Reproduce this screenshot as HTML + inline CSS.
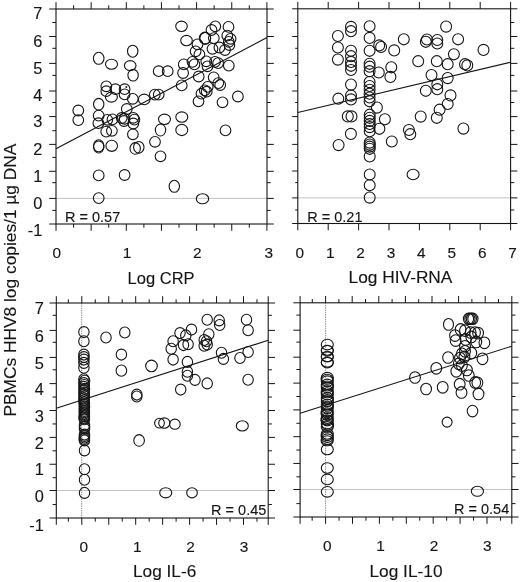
<!DOCTYPE html>
<html><head><meta charset="utf-8"><title>Figure</title>
<style>
html,body{margin:0;padding:0;background:#fff;}
svg{display:block;}
text{font-family:"Liberation Sans",sans-serif;}
</style></head>
<body>
<svg width="520" height="582" viewBox="0 0 520 582">
<rect width="520" height="582" fill="#ffffff"/>
<line x1="56.00" y1="198.40" x2="267.00" y2="198.40" stroke="#b4b4b4" stroke-width="0.8" />
<rect x="56.00" y="9.00" width="211.00" height="215.00" fill="none" stroke="#151515" stroke-width="1.1"/>
<line x1="49.20" y1="9.00" x2="56.00" y2="9.00" stroke="#151515" stroke-width="1.0" />
<line x1="267.00" y1="9.00" x2="273.80" y2="9.00" stroke="#151515" stroke-width="1.0" />
<line x1="52.30" y1="22.50" x2="56.00" y2="22.50" stroke="#151515" stroke-width="1.0" />
<line x1="267.00" y1="22.50" x2="270.70" y2="22.50" stroke="#151515" stroke-width="1.0" />
<line x1="49.20" y1="36.50" x2="56.00" y2="36.50" stroke="#151515" stroke-width="1.0" />
<line x1="267.00" y1="36.50" x2="273.80" y2="36.50" stroke="#151515" stroke-width="1.0" />
<line x1="52.30" y1="48.30" x2="56.00" y2="48.30" stroke="#151515" stroke-width="1.0" />
<line x1="267.00" y1="48.30" x2="270.70" y2="48.30" stroke="#151515" stroke-width="1.0" />
<line x1="49.20" y1="63.40" x2="56.00" y2="63.40" stroke="#151515" stroke-width="1.0" />
<line x1="267.00" y1="63.40" x2="273.80" y2="63.40" stroke="#151515" stroke-width="1.0" />
<line x1="52.30" y1="75.40" x2="56.00" y2="75.40" stroke="#151515" stroke-width="1.0" />
<line x1="267.00" y1="75.40" x2="270.70" y2="75.40" stroke="#151515" stroke-width="1.0" />
<line x1="49.20" y1="91.00" x2="56.00" y2="91.00" stroke="#151515" stroke-width="1.0" />
<line x1="267.00" y1="91.00" x2="273.80" y2="91.00" stroke="#151515" stroke-width="1.0" />
<line x1="52.30" y1="102.50" x2="56.00" y2="102.50" stroke="#151515" stroke-width="1.0" />
<line x1="267.00" y1="102.50" x2="270.70" y2="102.50" stroke="#151515" stroke-width="1.0" />
<line x1="49.20" y1="116.60" x2="56.00" y2="116.60" stroke="#151515" stroke-width="1.0" />
<line x1="267.00" y1="116.60" x2="273.80" y2="116.60" stroke="#151515" stroke-width="1.0" />
<line x1="52.30" y1="130.70" x2="56.00" y2="130.70" stroke="#151515" stroke-width="1.0" />
<line x1="267.00" y1="130.70" x2="270.70" y2="130.70" stroke="#151515" stroke-width="1.0" />
<line x1="49.20" y1="144.40" x2="56.00" y2="144.40" stroke="#151515" stroke-width="1.0" />
<line x1="267.00" y1="144.40" x2="273.80" y2="144.40" stroke="#151515" stroke-width="1.0" />
<line x1="52.30" y1="157.40" x2="56.00" y2="157.40" stroke="#151515" stroke-width="1.0" />
<line x1="267.00" y1="157.40" x2="270.70" y2="157.40" stroke="#151515" stroke-width="1.0" />
<line x1="49.20" y1="171.30" x2="56.00" y2="171.30" stroke="#151515" stroke-width="1.0" />
<line x1="267.00" y1="171.30" x2="273.80" y2="171.30" stroke="#151515" stroke-width="1.0" />
<line x1="52.30" y1="182.70" x2="56.00" y2="182.70" stroke="#151515" stroke-width="1.0" />
<line x1="267.00" y1="182.70" x2="270.70" y2="182.70" stroke="#151515" stroke-width="1.0" />
<line x1="49.20" y1="198.40" x2="56.00" y2="198.40" stroke="#151515" stroke-width="1.0" />
<line x1="267.00" y1="198.40" x2="273.80" y2="198.40" stroke="#151515" stroke-width="1.0" />
<line x1="52.30" y1="210.40" x2="56.00" y2="210.40" stroke="#151515" stroke-width="1.0" />
<line x1="267.00" y1="210.40" x2="270.70" y2="210.40" stroke="#151515" stroke-width="1.0" />
<line x1="49.20" y1="224.00" x2="56.00" y2="224.00" stroke="#151515" stroke-width="1.0" />
<line x1="267.00" y1="224.00" x2="273.80" y2="224.00" stroke="#151515" stroke-width="1.0" />
<line x1="56.00" y1="224.00" x2="56.00" y2="230.80" stroke="#151515" stroke-width="1.0" />
<line x1="91.15" y1="224.00" x2="91.15" y2="230.80" stroke="#151515" stroke-width="1.0" />
<line x1="126.30" y1="224.00" x2="126.30" y2="230.80" stroke="#151515" stroke-width="1.0" />
<line x1="161.45" y1="224.00" x2="161.45" y2="230.80" stroke="#151515" stroke-width="1.0" />
<line x1="196.60" y1="224.00" x2="196.60" y2="230.80" stroke="#151515" stroke-width="1.0" />
<line x1="231.75" y1="224.00" x2="231.75" y2="230.80" stroke="#151515" stroke-width="1.0" />
<line x1="266.90" y1="224.00" x2="266.90" y2="230.80" stroke="#151515" stroke-width="1.0" />
<line x1="73.58" y1="224.00" x2="73.58" y2="227.70" stroke="#151515" stroke-width="1.0" />
<line x1="108.72" y1="224.00" x2="108.72" y2="227.70" stroke="#151515" stroke-width="1.0" />
<line x1="143.88" y1="224.00" x2="143.88" y2="227.70" stroke="#151515" stroke-width="1.0" />
<line x1="179.02" y1="224.00" x2="179.02" y2="227.70" stroke="#151515" stroke-width="1.0" />
<line x1="214.17" y1="224.00" x2="214.17" y2="227.70" stroke="#151515" stroke-width="1.0" />
<line x1="249.32" y1="224.00" x2="249.32" y2="227.70" stroke="#151515" stroke-width="1.0" />
<line x1="56.00" y1="2.20" x2="56.00" y2="9.00" stroke="#151515" stroke-width="1.0" />
<line x1="91.15" y1="2.20" x2="91.15" y2="9.00" stroke="#151515" stroke-width="1.0" />
<line x1="126.30" y1="2.20" x2="126.30" y2="9.00" stroke="#151515" stroke-width="1.0" />
<line x1="161.45" y1="2.20" x2="161.45" y2="9.00" stroke="#151515" stroke-width="1.0" />
<line x1="196.60" y1="2.20" x2="196.60" y2="9.00" stroke="#151515" stroke-width="1.0" />
<line x1="231.75" y1="2.20" x2="231.75" y2="9.00" stroke="#151515" stroke-width="1.0" />
<line x1="266.90" y1="2.20" x2="266.90" y2="9.00" stroke="#151515" stroke-width="1.0" />
<line x1="73.58" y1="5.30" x2="73.58" y2="9.00" stroke="#151515" stroke-width="1.0" />
<line x1="108.72" y1="5.30" x2="108.72" y2="9.00" stroke="#151515" stroke-width="1.0" />
<line x1="143.88" y1="5.30" x2="143.88" y2="9.00" stroke="#151515" stroke-width="1.0" />
<line x1="179.02" y1="5.30" x2="179.02" y2="9.00" stroke="#151515" stroke-width="1.0" />
<line x1="214.17" y1="5.30" x2="214.17" y2="9.00" stroke="#151515" stroke-width="1.0" />
<line x1="249.32" y1="5.30" x2="249.32" y2="9.00" stroke="#151515" stroke-width="1.0" />
<line x1="297.80" y1="197.90" x2="510.60" y2="197.90" stroke="#b4b4b4" stroke-width="0.8" />
<rect x="297.80" y="8.80" width="212.80" height="214.70" fill="none" stroke="#151515" stroke-width="1.1"/>
<line x1="292.20" y1="8.80" x2="297.80" y2="8.80" stroke="#151515" stroke-width="1.0" />
<line x1="510.60" y1="8.80" x2="517.40" y2="8.80" stroke="#151515" stroke-width="1.0" />
<line x1="295.20" y1="22.50" x2="297.80" y2="22.50" stroke="#151515" stroke-width="1.0" />
<line x1="510.60" y1="22.50" x2="514.30" y2="22.50" stroke="#151515" stroke-width="1.0" />
<line x1="292.20" y1="36.50" x2="297.80" y2="36.50" stroke="#151515" stroke-width="1.0" />
<line x1="510.60" y1="36.50" x2="517.40" y2="36.50" stroke="#151515" stroke-width="1.0" />
<line x1="295.20" y1="48.30" x2="297.80" y2="48.30" stroke="#151515" stroke-width="1.0" />
<line x1="510.60" y1="48.30" x2="514.30" y2="48.30" stroke="#151515" stroke-width="1.0" />
<line x1="292.20" y1="63.40" x2="297.80" y2="63.40" stroke="#151515" stroke-width="1.0" />
<line x1="510.60" y1="63.40" x2="517.40" y2="63.40" stroke="#151515" stroke-width="1.0" />
<line x1="295.20" y1="75.40" x2="297.80" y2="75.40" stroke="#151515" stroke-width="1.0" />
<line x1="510.60" y1="75.40" x2="514.30" y2="75.40" stroke="#151515" stroke-width="1.0" />
<line x1="292.20" y1="91.00" x2="297.80" y2="91.00" stroke="#151515" stroke-width="1.0" />
<line x1="510.60" y1="91.00" x2="517.40" y2="91.00" stroke="#151515" stroke-width="1.0" />
<line x1="295.20" y1="102.50" x2="297.80" y2="102.50" stroke="#151515" stroke-width="1.0" />
<line x1="510.60" y1="102.50" x2="514.30" y2="102.50" stroke="#151515" stroke-width="1.0" />
<line x1="292.20" y1="116.60" x2="297.80" y2="116.60" stroke="#151515" stroke-width="1.0" />
<line x1="510.60" y1="116.60" x2="517.40" y2="116.60" stroke="#151515" stroke-width="1.0" />
<line x1="295.20" y1="130.70" x2="297.80" y2="130.70" stroke="#151515" stroke-width="1.0" />
<line x1="510.60" y1="130.70" x2="514.30" y2="130.70" stroke="#151515" stroke-width="1.0" />
<line x1="292.20" y1="144.40" x2="297.80" y2="144.40" stroke="#151515" stroke-width="1.0" />
<line x1="510.60" y1="144.40" x2="517.40" y2="144.40" stroke="#151515" stroke-width="1.0" />
<line x1="295.20" y1="157.40" x2="297.80" y2="157.40" stroke="#151515" stroke-width="1.0" />
<line x1="510.60" y1="157.40" x2="514.30" y2="157.40" stroke="#151515" stroke-width="1.0" />
<line x1="292.20" y1="171.00" x2="297.80" y2="171.00" stroke="#151515" stroke-width="1.0" />
<line x1="510.60" y1="171.00" x2="517.40" y2="171.00" stroke="#151515" stroke-width="1.0" />
<line x1="295.20" y1="182.60" x2="297.80" y2="182.60" stroke="#151515" stroke-width="1.0" />
<line x1="510.60" y1="182.60" x2="514.30" y2="182.60" stroke="#151515" stroke-width="1.0" />
<line x1="292.20" y1="197.90" x2="297.80" y2="197.90" stroke="#151515" stroke-width="1.0" />
<line x1="510.60" y1="197.90" x2="517.40" y2="197.90" stroke="#151515" stroke-width="1.0" />
<line x1="295.20" y1="210.00" x2="297.80" y2="210.00" stroke="#151515" stroke-width="1.0" />
<line x1="510.60" y1="210.00" x2="514.30" y2="210.00" stroke="#151515" stroke-width="1.0" />
<line x1="292.20" y1="223.50" x2="297.80" y2="223.50" stroke="#151515" stroke-width="1.0" />
<line x1="510.60" y1="223.50" x2="517.40" y2="223.50" stroke="#151515" stroke-width="1.0" />
<line x1="297.80" y1="223.50" x2="297.80" y2="230.30" stroke="#151515" stroke-width="1.0" />
<line x1="328.20" y1="223.50" x2="328.20" y2="230.30" stroke="#151515" stroke-width="1.0" />
<line x1="358.60" y1="223.50" x2="358.60" y2="230.30" stroke="#151515" stroke-width="1.0" />
<line x1="389.00" y1="223.50" x2="389.00" y2="230.30" stroke="#151515" stroke-width="1.0" />
<line x1="419.40" y1="223.50" x2="419.40" y2="230.30" stroke="#151515" stroke-width="1.0" />
<line x1="449.80" y1="223.50" x2="449.80" y2="230.30" stroke="#151515" stroke-width="1.0" />
<line x1="480.20" y1="223.50" x2="480.20" y2="230.30" stroke="#151515" stroke-width="1.0" />
<line x1="510.60" y1="223.50" x2="510.60" y2="230.30" stroke="#151515" stroke-width="1.0" />
<line x1="297.80" y1="2.00" x2="297.80" y2="8.80" stroke="#151515" stroke-width="1.0" />
<line x1="328.20" y1="2.00" x2="328.20" y2="8.80" stroke="#151515" stroke-width="1.0" />
<line x1="358.60" y1="2.00" x2="358.60" y2="8.80" stroke="#151515" stroke-width="1.0" />
<line x1="389.00" y1="2.00" x2="389.00" y2="8.80" stroke="#151515" stroke-width="1.0" />
<line x1="419.40" y1="2.00" x2="419.40" y2="8.80" stroke="#151515" stroke-width="1.0" />
<line x1="449.80" y1="2.00" x2="449.80" y2="8.80" stroke="#151515" stroke-width="1.0" />
<line x1="480.20" y1="2.00" x2="480.20" y2="8.80" stroke="#151515" stroke-width="1.0" />
<line x1="510.60" y1="2.00" x2="510.60" y2="8.80" stroke="#151515" stroke-width="1.0" />
<line x1="56.30" y1="490.50" x2="268.20" y2="490.50" stroke="#b4b4b4" stroke-width="0.8" />
<line x1="81.70" y1="303.00" x2="81.70" y2="518.00" stroke="#5a5a5a" stroke-width="0.7" stroke-dasharray="1.4 0.9"/>
<rect x="56.30" y="303.00" width="211.90" height="215.00" fill="none" stroke="#151515" stroke-width="1.1"/>
<line x1="49.50" y1="303.00" x2="56.30" y2="303.00" stroke="#151515" stroke-width="1.0" />
<line x1="268.20" y1="303.00" x2="275.00" y2="303.00" stroke="#151515" stroke-width="1.0" />
<line x1="52.60" y1="315.30" x2="56.30" y2="315.30" stroke="#151515" stroke-width="1.0" />
<line x1="268.20" y1="315.30" x2="271.90" y2="315.30" stroke="#151515" stroke-width="1.0" />
<line x1="49.50" y1="330.40" x2="56.30" y2="330.40" stroke="#151515" stroke-width="1.0" />
<line x1="268.20" y1="330.40" x2="275.00" y2="330.40" stroke="#151515" stroke-width="1.0" />
<line x1="52.60" y1="342.30" x2="56.30" y2="342.30" stroke="#151515" stroke-width="1.0" />
<line x1="268.20" y1="342.30" x2="271.90" y2="342.30" stroke="#151515" stroke-width="1.0" />
<line x1="49.50" y1="357.40" x2="56.30" y2="357.40" stroke="#151515" stroke-width="1.0" />
<line x1="268.20" y1="357.40" x2="275.00" y2="357.40" stroke="#151515" stroke-width="1.0" />
<line x1="52.60" y1="369.80" x2="56.30" y2="369.80" stroke="#151515" stroke-width="1.0" />
<line x1="268.20" y1="369.80" x2="271.90" y2="369.80" stroke="#151515" stroke-width="1.0" />
<line x1="49.50" y1="383.62" x2="56.30" y2="383.62" stroke="#151515" stroke-width="1.0" />
<line x1="268.20" y1="383.62" x2="275.00" y2="383.62" stroke="#151515" stroke-width="1.0" />
<line x1="52.60" y1="397.06" x2="56.30" y2="397.06" stroke="#151515" stroke-width="1.0" />
<line x1="268.20" y1="397.06" x2="271.90" y2="397.06" stroke="#151515" stroke-width="1.0" />
<line x1="49.50" y1="410.50" x2="56.30" y2="410.50" stroke="#151515" stroke-width="1.0" />
<line x1="268.20" y1="410.50" x2="275.00" y2="410.50" stroke="#151515" stroke-width="1.0" />
<line x1="52.60" y1="423.94" x2="56.30" y2="423.94" stroke="#151515" stroke-width="1.0" />
<line x1="268.20" y1="423.94" x2="271.90" y2="423.94" stroke="#151515" stroke-width="1.0" />
<line x1="49.50" y1="437.38" x2="56.30" y2="437.38" stroke="#151515" stroke-width="1.0" />
<line x1="268.20" y1="437.38" x2="275.00" y2="437.38" stroke="#151515" stroke-width="1.0" />
<line x1="52.60" y1="450.81" x2="56.30" y2="450.81" stroke="#151515" stroke-width="1.0" />
<line x1="268.20" y1="450.81" x2="271.90" y2="450.81" stroke="#151515" stroke-width="1.0" />
<line x1="49.50" y1="464.25" x2="56.30" y2="464.25" stroke="#151515" stroke-width="1.0" />
<line x1="268.20" y1="464.25" x2="275.00" y2="464.25" stroke="#151515" stroke-width="1.0" />
<line x1="52.60" y1="477.69" x2="56.30" y2="477.69" stroke="#151515" stroke-width="1.0" />
<line x1="268.20" y1="477.69" x2="271.90" y2="477.69" stroke="#151515" stroke-width="1.0" />
<line x1="49.50" y1="490.50" x2="56.30" y2="490.50" stroke="#151515" stroke-width="1.0" />
<line x1="268.20" y1="490.50" x2="275.00" y2="490.50" stroke="#151515" stroke-width="1.0" />
<line x1="52.60" y1="504.56" x2="56.30" y2="504.56" stroke="#151515" stroke-width="1.0" />
<line x1="268.20" y1="504.56" x2="271.90" y2="504.56" stroke="#151515" stroke-width="1.0" />
<line x1="49.50" y1="518.00" x2="56.30" y2="518.00" stroke="#151515" stroke-width="1.0" />
<line x1="268.20" y1="518.00" x2="275.00" y2="518.00" stroke="#151515" stroke-width="1.0" />
<line x1="56.30" y1="518.00" x2="56.30" y2="524.80" stroke="#151515" stroke-width="1.0" />
<line x1="81.80" y1="518.00" x2="81.80" y2="524.80" stroke="#151515" stroke-width="1.0" />
<line x1="108.75" y1="518.00" x2="108.75" y2="524.80" stroke="#151515" stroke-width="1.0" />
<line x1="135.70" y1="518.00" x2="135.70" y2="524.80" stroke="#151515" stroke-width="1.0" />
<line x1="162.65" y1="518.00" x2="162.65" y2="524.80" stroke="#151515" stroke-width="1.0" />
<line x1="189.60" y1="518.00" x2="189.60" y2="524.80" stroke="#151515" stroke-width="1.0" />
<line x1="216.55" y1="518.00" x2="216.55" y2="524.80" stroke="#151515" stroke-width="1.0" />
<line x1="243.50" y1="518.00" x2="243.50" y2="524.80" stroke="#151515" stroke-width="1.0" />
<line x1="268.20" y1="518.00" x2="268.20" y2="524.80" stroke="#151515" stroke-width="1.0" />
<line x1="68.33" y1="518.00" x2="68.33" y2="521.70" stroke="#151515" stroke-width="1.0" />
<line x1="95.27" y1="518.00" x2="95.27" y2="521.70" stroke="#151515" stroke-width="1.0" />
<line x1="122.22" y1="518.00" x2="122.22" y2="521.70" stroke="#151515" stroke-width="1.0" />
<line x1="149.18" y1="518.00" x2="149.18" y2="521.70" stroke="#151515" stroke-width="1.0" />
<line x1="176.12" y1="518.00" x2="176.12" y2="521.70" stroke="#151515" stroke-width="1.0" />
<line x1="203.07" y1="518.00" x2="203.07" y2="521.70" stroke="#151515" stroke-width="1.0" />
<line x1="230.02" y1="518.00" x2="230.02" y2="521.70" stroke="#151515" stroke-width="1.0" />
<line x1="256.97" y1="518.00" x2="256.97" y2="521.70" stroke="#151515" stroke-width="1.0" />
<line x1="56.30" y1="296.20" x2="56.30" y2="303.00" stroke="#151515" stroke-width="1.0" />
<line x1="81.80" y1="296.20" x2="81.80" y2="303.00" stroke="#151515" stroke-width="1.0" />
<line x1="108.75" y1="296.20" x2="108.75" y2="303.00" stroke="#151515" stroke-width="1.0" />
<line x1="135.70" y1="296.20" x2="135.70" y2="303.00" stroke="#151515" stroke-width="1.0" />
<line x1="162.65" y1="296.20" x2="162.65" y2="303.00" stroke="#151515" stroke-width="1.0" />
<line x1="189.60" y1="296.20" x2="189.60" y2="303.00" stroke="#151515" stroke-width="1.0" />
<line x1="216.55" y1="296.20" x2="216.55" y2="303.00" stroke="#151515" stroke-width="1.0" />
<line x1="243.50" y1="296.20" x2="243.50" y2="303.00" stroke="#151515" stroke-width="1.0" />
<line x1="268.20" y1="296.20" x2="268.20" y2="303.00" stroke="#151515" stroke-width="1.0" />
<line x1="68.33" y1="299.30" x2="68.33" y2="303.00" stroke="#151515" stroke-width="1.0" />
<line x1="95.27" y1="299.30" x2="95.27" y2="303.00" stroke="#151515" stroke-width="1.0" />
<line x1="122.22" y1="299.30" x2="122.22" y2="303.00" stroke="#151515" stroke-width="1.0" />
<line x1="149.18" y1="299.30" x2="149.18" y2="303.00" stroke="#151515" stroke-width="1.0" />
<line x1="176.12" y1="299.30" x2="176.12" y2="303.00" stroke="#151515" stroke-width="1.0" />
<line x1="203.07" y1="299.30" x2="203.07" y2="303.00" stroke="#151515" stroke-width="1.0" />
<line x1="230.02" y1="299.30" x2="230.02" y2="303.00" stroke="#151515" stroke-width="1.0" />
<line x1="256.97" y1="299.30" x2="256.97" y2="303.00" stroke="#151515" stroke-width="1.0" />
<line x1="300.10" y1="489.50" x2="511.80" y2="489.50" stroke="#b4b4b4" stroke-width="0.8" />
<line x1="325.60" y1="302.80" x2="325.60" y2="517.00" stroke="#5a5a5a" stroke-width="0.7" stroke-dasharray="1.4 0.9"/>
<rect x="300.10" y="302.80" width="211.70" height="214.20" fill="none" stroke="#151515" stroke-width="1.1"/>
<line x1="293.30" y1="302.80" x2="300.10" y2="302.80" stroke="#151515" stroke-width="1.0" />
<line x1="511.80" y1="302.80" x2="518.60" y2="302.80" stroke="#151515" stroke-width="1.0" />
<line x1="296.40" y1="315.10" x2="300.10" y2="315.10" stroke="#151515" stroke-width="1.0" />
<line x1="511.80" y1="315.10" x2="515.50" y2="315.10" stroke="#151515" stroke-width="1.0" />
<line x1="293.30" y1="330.20" x2="300.10" y2="330.20" stroke="#151515" stroke-width="1.0" />
<line x1="511.80" y1="330.20" x2="518.60" y2="330.20" stroke="#151515" stroke-width="1.0" />
<line x1="296.40" y1="342.10" x2="300.10" y2="342.10" stroke="#151515" stroke-width="1.0" />
<line x1="511.80" y1="342.10" x2="515.50" y2="342.10" stroke="#151515" stroke-width="1.0" />
<line x1="293.30" y1="357.20" x2="300.10" y2="357.20" stroke="#151515" stroke-width="1.0" />
<line x1="511.80" y1="357.20" x2="518.60" y2="357.20" stroke="#151515" stroke-width="1.0" />
<line x1="296.40" y1="369.50" x2="300.10" y2="369.50" stroke="#151515" stroke-width="1.0" />
<line x1="511.80" y1="369.50" x2="515.50" y2="369.50" stroke="#151515" stroke-width="1.0" />
<line x1="293.30" y1="383.12" x2="300.10" y2="383.12" stroke="#151515" stroke-width="1.0" />
<line x1="511.80" y1="383.12" x2="518.60" y2="383.12" stroke="#151515" stroke-width="1.0" />
<line x1="296.40" y1="396.51" x2="300.10" y2="396.51" stroke="#151515" stroke-width="1.0" />
<line x1="511.80" y1="396.51" x2="515.50" y2="396.51" stroke="#151515" stroke-width="1.0" />
<line x1="293.30" y1="409.90" x2="300.10" y2="409.90" stroke="#151515" stroke-width="1.0" />
<line x1="511.80" y1="409.90" x2="518.60" y2="409.90" stroke="#151515" stroke-width="1.0" />
<line x1="296.40" y1="423.29" x2="300.10" y2="423.29" stroke="#151515" stroke-width="1.0" />
<line x1="511.80" y1="423.29" x2="515.50" y2="423.29" stroke="#151515" stroke-width="1.0" />
<line x1="293.30" y1="436.68" x2="300.10" y2="436.68" stroke="#151515" stroke-width="1.0" />
<line x1="511.80" y1="436.68" x2="518.60" y2="436.68" stroke="#151515" stroke-width="1.0" />
<line x1="296.40" y1="450.06" x2="300.10" y2="450.06" stroke="#151515" stroke-width="1.0" />
<line x1="511.80" y1="450.06" x2="515.50" y2="450.06" stroke="#151515" stroke-width="1.0" />
<line x1="293.30" y1="463.45" x2="300.10" y2="463.45" stroke="#151515" stroke-width="1.0" />
<line x1="511.80" y1="463.45" x2="518.60" y2="463.45" stroke="#151515" stroke-width="1.0" />
<line x1="296.40" y1="476.84" x2="300.10" y2="476.84" stroke="#151515" stroke-width="1.0" />
<line x1="511.80" y1="476.84" x2="515.50" y2="476.84" stroke="#151515" stroke-width="1.0" />
<line x1="293.30" y1="489.50" x2="300.10" y2="489.50" stroke="#151515" stroke-width="1.0" />
<line x1="511.80" y1="489.50" x2="518.60" y2="489.50" stroke="#151515" stroke-width="1.0" />
<line x1="296.40" y1="503.61" x2="300.10" y2="503.61" stroke="#151515" stroke-width="1.0" />
<line x1="511.80" y1="503.61" x2="515.50" y2="503.61" stroke="#151515" stroke-width="1.0" />
<line x1="293.30" y1="517.00" x2="300.10" y2="517.00" stroke="#151515" stroke-width="1.0" />
<line x1="511.80" y1="517.00" x2="518.60" y2="517.00" stroke="#151515" stroke-width="1.0" />
<line x1="300.10" y1="517.00" x2="300.10" y2="523.80" stroke="#151515" stroke-width="1.0" />
<line x1="325.60" y1="517.00" x2="325.60" y2="523.80" stroke="#151515" stroke-width="1.0" />
<line x1="352.50" y1="517.00" x2="352.50" y2="523.80" stroke="#151515" stroke-width="1.0" />
<line x1="379.40" y1="517.00" x2="379.40" y2="523.80" stroke="#151515" stroke-width="1.0" />
<line x1="406.30" y1="517.00" x2="406.30" y2="523.80" stroke="#151515" stroke-width="1.0" />
<line x1="433.20" y1="517.00" x2="433.20" y2="523.80" stroke="#151515" stroke-width="1.0" />
<line x1="460.10" y1="517.00" x2="460.10" y2="523.80" stroke="#151515" stroke-width="1.0" />
<line x1="487.00" y1="517.00" x2="487.00" y2="523.80" stroke="#151515" stroke-width="1.0" />
<line x1="511.80" y1="517.00" x2="511.80" y2="523.80" stroke="#151515" stroke-width="1.0" />
<line x1="312.15" y1="517.00" x2="312.15" y2="520.70" stroke="#151515" stroke-width="1.0" />
<line x1="339.05" y1="517.00" x2="339.05" y2="520.70" stroke="#151515" stroke-width="1.0" />
<line x1="365.95" y1="517.00" x2="365.95" y2="520.70" stroke="#151515" stroke-width="1.0" />
<line x1="392.85" y1="517.00" x2="392.85" y2="520.70" stroke="#151515" stroke-width="1.0" />
<line x1="419.75" y1="517.00" x2="419.75" y2="520.70" stroke="#151515" stroke-width="1.0" />
<line x1="446.65" y1="517.00" x2="446.65" y2="520.70" stroke="#151515" stroke-width="1.0" />
<line x1="473.55" y1="517.00" x2="473.55" y2="520.70" stroke="#151515" stroke-width="1.0" />
<line x1="500.45" y1="517.00" x2="500.45" y2="520.70" stroke="#151515" stroke-width="1.0" />
<line x1="300.10" y1="296.00" x2="300.10" y2="302.80" stroke="#151515" stroke-width="1.0" />
<line x1="325.60" y1="296.00" x2="325.60" y2="302.80" stroke="#151515" stroke-width="1.0" />
<line x1="352.20" y1="296.00" x2="352.20" y2="302.80" stroke="#151515" stroke-width="1.0" />
<line x1="378.80" y1="296.00" x2="378.80" y2="302.80" stroke="#151515" stroke-width="1.0" />
<line x1="405.40" y1="296.00" x2="405.40" y2="302.80" stroke="#151515" stroke-width="1.0" />
<line x1="432.00" y1="296.00" x2="432.00" y2="302.80" stroke="#151515" stroke-width="1.0" />
<line x1="458.60" y1="296.00" x2="458.60" y2="302.80" stroke="#151515" stroke-width="1.0" />
<line x1="485.20" y1="296.00" x2="485.20" y2="302.80" stroke="#151515" stroke-width="1.0" />
<line x1="511.80" y1="296.00" x2="511.80" y2="302.80" stroke="#151515" stroke-width="1.0" />
<line x1="312.30" y1="299.10" x2="312.30" y2="302.80" stroke="#151515" stroke-width="1.0" />
<line x1="338.90" y1="299.10" x2="338.90" y2="302.80" stroke="#151515" stroke-width="1.0" />
<line x1="365.50" y1="299.10" x2="365.50" y2="302.80" stroke="#151515" stroke-width="1.0" />
<line x1="392.10" y1="299.10" x2="392.10" y2="302.80" stroke="#151515" stroke-width="1.0" />
<line x1="418.70" y1="299.10" x2="418.70" y2="302.80" stroke="#151515" stroke-width="1.0" />
<line x1="445.30" y1="299.10" x2="445.30" y2="302.80" stroke="#151515" stroke-width="1.0" />
<line x1="471.90" y1="299.10" x2="471.90" y2="302.80" stroke="#151515" stroke-width="1.0" />
<line x1="498.50" y1="299.10" x2="498.50" y2="302.80" stroke="#151515" stroke-width="1.0" />
<line x1="56.00" y1="148.70" x2="267.00" y2="37.50" stroke="#151515" stroke-width="1.15" />
<line x1="297.80" y1="112.50" x2="510.60" y2="62.30" stroke="#151515" stroke-width="1.15" />
<line x1="56.30" y1="408.30" x2="268.20" y2="340.30" stroke="#151515" stroke-width="1.15" />
<line x1="300.10" y1="413.30" x2="511.80" y2="346.20" stroke="#151515" stroke-width="1.15" />
<g fill="none" stroke="#151515" stroke-width="1.1">
<ellipse cx="98.7" cy="58.3" rx="5.3" ry="6"/>
<ellipse cx="111.5" cy="64.2" rx="6" ry="5"/>
<ellipse cx="132.7" cy="51.2" rx="5.2" ry="6"/>
<ellipse cx="130.2" cy="65.6" rx="5.8" ry="5"/>
<ellipse cx="133.1" cy="75.2" rx="5.2" ry="5.8"/>
<ellipse cx="106.3" cy="86.3" rx="5.35" ry="5.35"/>
<ellipse cx="106.3" cy="91.2" rx="5.35" ry="5.35"/>
<ellipse cx="115.4" cy="89.2" rx="5.35" ry="5.35"/>
<ellipse cx="124.6" cy="89.2" rx="5.35" ry="5.35"/>
<ellipse cx="124.6" cy="94.4" rx="5.35" ry="5.35"/>
<ellipse cx="111.4" cy="97.1" rx="6" ry="5"/>
<ellipse cx="132.8" cy="98.8" rx="5.35" ry="5.35"/>
<ellipse cx="144.2" cy="99.4" rx="5.8" ry="5.3"/>
<ellipse cx="98.7" cy="104.2" rx="5.2" ry="5.8"/>
<ellipse cx="78.3" cy="110.5" rx="5.35" ry="5.35"/>
<ellipse cx="78.3" cy="120.1" rx="5.35" ry="5.35"/>
<ellipse cx="98.7" cy="115.6" rx="5.35" ry="5.35"/>
<ellipse cx="98.4" cy="123.2" rx="5.35" ry="5.35"/>
<ellipse cx="107.3" cy="119.8" rx="5.35" ry="5.35"/>
<ellipse cx="112.5" cy="119.4" rx="5.35" ry="5.35"/>
<ellipse cx="106.2" cy="131.6" rx="5.35" ry="5.35"/>
<ellipse cx="111.9" cy="130.8" rx="5.35" ry="5.35"/>
<ellipse cx="126.8" cy="109.0" rx="5.35" ry="5.35"/>
<ellipse cx="121.7" cy="118.0" rx="5.35" ry="5.35"/>
<ellipse cx="124.6" cy="118.8" rx="5.35" ry="5.35"/>
<ellipse cx="124.0" cy="121.0" rx="5.35" ry="5.35"/>
<ellipse cx="133.3" cy="117.8" rx="5.35" ry="5.35"/>
<ellipse cx="134.4" cy="119.6" rx="5.35" ry="5.35"/>
<ellipse cx="133.3" cy="123.5" rx="5.35" ry="5.35"/>
<ellipse cx="132.9" cy="134.3" rx="5.35" ry="5.35"/>
<ellipse cx="98.7" cy="145.8" rx="5.2" ry="6"/>
<ellipse cx="98.7" cy="147.0" rx="5.2" ry="6"/>
<ellipse cx="111.7" cy="145.8" rx="5.8" ry="5.6"/>
<ellipse cx="135.2" cy="148.4" rx="5.2" ry="5.8"/>
<ellipse cx="138.8" cy="147.3" rx="5.2" ry="5.8"/>
<ellipse cx="98.7" cy="175.4" rx="5.35" ry="5.35"/>
<ellipse cx="124.6" cy="175.0" rx="5.35" ry="5.35"/>
<ellipse cx="98.7" cy="198.1" rx="5.35" ry="5.35"/>
<ellipse cx="181.5" cy="26.3" rx="5.8" ry="5.2"/>
<ellipse cx="186.5" cy="40.6" rx="5.8" ry="5.2"/>
<ellipse cx="215.3" cy="26.3" rx="5.35" ry="5.35"/>
<ellipse cx="211.5" cy="30.0" rx="5.35" ry="5.35"/>
<ellipse cx="228.5" cy="26.9" rx="5.35" ry="5.35"/>
<ellipse cx="205.0" cy="38.1" rx="5.6" ry="6"/>
<ellipse cx="205.3" cy="38.3" rx="5.4" ry="5.8"/>
<ellipse cx="213.8" cy="38.1" rx="5.35" ry="5.35"/>
<ellipse cx="227.3" cy="35.6" rx="5.35" ry="5.35"/>
<ellipse cx="230.6" cy="38.8" rx="5.35" ry="5.35"/>
<ellipse cx="228.8" cy="41.9" rx="5.35" ry="5.35"/>
<ellipse cx="229.4" cy="45.0" rx="5.35" ry="5.35"/>
<ellipse cx="197.5" cy="44.4" rx="5.35" ry="5.35"/>
<ellipse cx="195.6" cy="51.3" rx="5.35" ry="5.35"/>
<ellipse cx="199.4" cy="54.4" rx="5.35" ry="5.35"/>
<ellipse cx="212.5" cy="48.8" rx="5.35" ry="5.35"/>
<ellipse cx="219.4" cy="47.5" rx="5.35" ry="5.35"/>
<ellipse cx="225.0" cy="50.0" rx="5.35" ry="5.35"/>
<ellipse cx="183.8" cy="64.4" rx="5.35" ry="5.35"/>
<ellipse cx="192.5" cy="61.9" rx="5.35" ry="5.35"/>
<ellipse cx="194.4" cy="64.4" rx="5.35" ry="5.35"/>
<ellipse cx="206.3" cy="61.3" rx="5.35" ry="5.35"/>
<ellipse cx="207.5" cy="66.3" rx="5.35" ry="5.35"/>
<ellipse cx="215.0" cy="61.9" rx="5.35" ry="5.35"/>
<ellipse cx="218.1" cy="63.1" rx="5.35" ry="5.35"/>
<ellipse cx="228.8" cy="65.6" rx="5.35" ry="5.35"/>
<ellipse cx="183.1" cy="73.0" rx="5.35" ry="5.35"/>
<ellipse cx="198.7" cy="76.5" rx="5.35" ry="5.35"/>
<ellipse cx="213.7" cy="77.4" rx="5.35" ry="5.35"/>
<ellipse cx="158.7" cy="71.2" rx="5.35" ry="5.35"/>
<ellipse cx="167.7" cy="71.2" rx="5.35" ry="5.35"/>
<ellipse cx="181.7" cy="85.4" rx="5.35" ry="5.35"/>
<ellipse cx="154.8" cy="94.6" rx="5.35" ry="5.35"/>
<ellipse cx="158.7" cy="94.6" rx="5.35" ry="5.35"/>
<ellipse cx="218.3" cy="83.1" rx="5.35" ry="5.35"/>
<ellipse cx="220.2" cy="85.0" rx="5.35" ry="5.35"/>
<ellipse cx="207.7" cy="86.9" rx="5.35" ry="5.35"/>
<ellipse cx="204.8" cy="90.4" rx="5.35" ry="5.35"/>
<ellipse cx="201.5" cy="93.7" rx="5.35" ry="5.35"/>
<ellipse cx="206.7" cy="91.7" rx="5.35" ry="5.35"/>
<ellipse cx="198.5" cy="101.3" rx="5.35" ry="5.35"/>
<ellipse cx="222.5" cy="102.3" rx="5.35" ry="5.35"/>
<ellipse cx="237.9" cy="96.5" rx="5.35" ry="5.35"/>
<ellipse cx="164.5" cy="119.3" rx="6" ry="5.2"/>
<ellipse cx="181.8" cy="117.1" rx="6" ry="5.2"/>
<ellipse cx="160.5" cy="130.0" rx="5.2" ry="6"/>
<ellipse cx="181.8" cy="130.0" rx="6" ry="5.6"/>
<ellipse cx="225.5" cy="130.4" rx="5.35" ry="5.35"/>
<ellipse cx="155.0" cy="141.8" rx="5.35" ry="5.35"/>
<ellipse cx="160.5" cy="156.3" rx="5.35" ry="5.35"/>
<ellipse cx="174.3" cy="186.3" rx="5.2" ry="6"/>
<ellipse cx="202.5" cy="198.8" rx="6.2" ry="5"/>
<ellipse cx="337.9" cy="36.0" rx="5.45" ry="5.55"/>
<ellipse cx="337.9" cy="47.5" rx="5.45" ry="5.55"/>
<ellipse cx="337.9" cy="59.6" rx="5.45" ry="5.55"/>
<ellipse cx="338.3" cy="98.7" rx="5.45" ry="5.55"/>
<ellipse cx="338.6" cy="145.1" rx="5.45" ry="5.55"/>
<ellipse cx="351.0" cy="26.9" rx="5.45" ry="5.55"/>
<ellipse cx="351.0" cy="31.2" rx="5.45" ry="5.55"/>
<ellipse cx="351.0" cy="50.8" rx="5.45" ry="5.55"/>
<ellipse cx="351.0" cy="56.2" rx="5.45" ry="5.55"/>
<ellipse cx="351.0" cy="61.9" rx="5.45" ry="5.55"/>
<ellipse cx="351.0" cy="65.8" rx="5.45" ry="5.55"/>
<ellipse cx="351.0" cy="70.0" rx="5.45" ry="5.55"/>
<ellipse cx="351.0" cy="84.6" rx="5.45" ry="5.55"/>
<ellipse cx="351.0" cy="95.6" rx="5.45" ry="5.55"/>
<ellipse cx="351.0" cy="99.4" rx="5.45" ry="5.55"/>
<ellipse cx="347.8" cy="116.4" rx="5.45" ry="5.55"/>
<ellipse cx="351.5" cy="116.4" rx="5.45" ry="5.55"/>
<ellipse cx="350.9" cy="133.9" rx="5.45" ry="5.55"/>
<ellipse cx="369.6" cy="26.3" rx="5.45" ry="5.55"/>
<ellipse cx="369.6" cy="37.9" rx="5.45" ry="5.55"/>
<ellipse cx="369.6" cy="50.8" rx="5.45" ry="5.55"/>
<ellipse cx="369.6" cy="63.8" rx="5.45" ry="5.55"/>
<ellipse cx="369.6" cy="66.7" rx="5.45" ry="5.55"/>
<ellipse cx="369.6" cy="71.2" rx="5.45" ry="5.55"/>
<ellipse cx="369.6" cy="82.1" rx="5.45" ry="5.55"/>
<ellipse cx="369.6" cy="86.0" rx="5.45" ry="5.55"/>
<ellipse cx="369.6" cy="89.8" rx="5.45" ry="5.55"/>
<ellipse cx="369.6" cy="93.7" rx="5.45" ry="5.55"/>
<ellipse cx="369.6" cy="97.5" rx="5.45" ry="5.55"/>
<ellipse cx="369.6" cy="101.3" rx="5.45" ry="5.55"/>
<ellipse cx="369.7" cy="114.7" rx="5.45" ry="5.55"/>
<ellipse cx="369.7" cy="117.8" rx="5.45" ry="5.55"/>
<ellipse cx="369.7" cy="120.9" rx="5.45" ry="5.55"/>
<ellipse cx="369.7" cy="124.0" rx="5.45" ry="5.55"/>
<ellipse cx="369.7" cy="127.1" rx="5.45" ry="5.55"/>
<ellipse cx="369.7" cy="131.2" rx="5.45" ry="5.55"/>
<ellipse cx="369.7" cy="142.6" rx="5.45" ry="5.55"/>
<ellipse cx="369.7" cy="144.6" rx="5.45" ry="5.55"/>
<ellipse cx="369.7" cy="146.7" rx="5.45" ry="5.55"/>
<ellipse cx="369.7" cy="148.8" rx="5.45" ry="5.55"/>
<ellipse cx="369.7" cy="156.4" rx="5.45" ry="5.55"/>
<ellipse cx="369.7" cy="174.5" rx="5.45" ry="5.55"/>
<ellipse cx="369.7" cy="185.3" rx="5.45" ry="5.55"/>
<ellipse cx="369.7" cy="197.6" rx="5.45" ry="5.55"/>
<ellipse cx="379.2" cy="45.4" rx="5.45" ry="5.55"/>
<ellipse cx="381.1" cy="47.0" rx="5.45" ry="5.55"/>
<ellipse cx="394.2" cy="50.4" rx="5.45" ry="5.55"/>
<ellipse cx="391.3" cy="67.3" rx="5.45" ry="5.55"/>
<ellipse cx="378.8" cy="72.5" rx="5.45" ry="5.55"/>
<ellipse cx="390.4" cy="76.9" rx="5.45" ry="5.55"/>
<ellipse cx="376.9" cy="107.6" rx="5.45" ry="5.55"/>
<ellipse cx="384.9" cy="119.3" rx="5.45" ry="5.55"/>
<ellipse cx="379.4" cy="128.8" rx="5.45" ry="5.55"/>
<ellipse cx="391.8" cy="141.5" rx="5.45" ry="5.55"/>
<ellipse cx="446.1" cy="26.6" rx="5.45" ry="5.55"/>
<ellipse cx="403.8" cy="39.3" rx="5.45" ry="5.55"/>
<ellipse cx="426.9" cy="39.5" rx="5.45" ry="5.55"/>
<ellipse cx="425.8" cy="41.8" rx="5.45" ry="5.55"/>
<ellipse cx="437.3" cy="40.0" rx="5.45" ry="5.55"/>
<ellipse cx="437.3" cy="43.5" rx="5.45" ry="5.55"/>
<ellipse cx="458.1" cy="39.3" rx="5.45" ry="5.55"/>
<ellipse cx="483.5" cy="49.9" rx="5.45" ry="5.55"/>
<ellipse cx="453.9" cy="54.3" rx="5.45" ry="5.55"/>
<ellipse cx="418.2" cy="61.2" rx="5.45" ry="5.55"/>
<ellipse cx="436.8" cy="61.2" rx="5.45" ry="5.55"/>
<ellipse cx="447.7" cy="64.2" rx="5.45" ry="5.55"/>
<ellipse cx="465.0" cy="64.2" rx="5.45" ry="5.55"/>
<ellipse cx="467.3" cy="65.4" rx="5.45" ry="5.55"/>
<ellipse cx="431.5" cy="75.1" rx="5.45" ry="5.55"/>
<ellipse cx="447.7" cy="78.1" rx="5.45" ry="5.55"/>
<ellipse cx="437.3" cy="84.3" rx="5.45" ry="5.55"/>
<ellipse cx="437.3" cy="89.2" rx="5.45" ry="5.55"/>
<ellipse cx="425.8" cy="90.8" rx="5.45" ry="5.55"/>
<ellipse cx="450.5" cy="95.4" rx="5.45" ry="5.55"/>
<ellipse cx="447.7" cy="104.0" rx="5.45" ry="5.55"/>
<ellipse cx="439.6" cy="109.7" rx="5.45" ry="5.55"/>
<ellipse cx="436.8" cy="117.8" rx="5.45" ry="5.55"/>
<ellipse cx="420.7" cy="116.6" rx="5.45" ry="5.55"/>
<ellipse cx="408.9" cy="130.0" rx="5.45" ry="5.55"/>
<ellipse cx="410.3" cy="134.2" rx="5.45" ry="5.55"/>
<ellipse cx="463.4" cy="128.6" rx="5.45" ry="5.55"/>
<ellipse cx="413.1" cy="174.5" rx="6" ry="5.2"/>
<ellipse cx="83.9" cy="332.1" rx="5.2" ry="5.5"/>
<ellipse cx="83.9" cy="341.3" rx="5.2" ry="5.5"/>
<ellipse cx="83.9" cy="354.6" rx="5.2" ry="5.5"/>
<ellipse cx="83.9" cy="357.1" rx="5.2" ry="5.5"/>
<ellipse cx="83.9" cy="359.6" rx="5.2" ry="5.5"/>
<ellipse cx="83.9" cy="362.9" rx="5.2" ry="5.5"/>
<ellipse cx="83.9" cy="367.7" rx="5.2" ry="5.5"/>
<ellipse cx="83.9" cy="379.2" rx="5.2" ry="5.5"/>
<ellipse cx="83.9" cy="383.1" rx="5.2" ry="5.5"/>
<ellipse cx="83.9" cy="386.9" rx="5.2" ry="5.5"/>
<ellipse cx="83.9" cy="390.8" rx="5.2" ry="5.5"/>
<ellipse cx="83.9" cy="394.6" rx="5.2" ry="5.5"/>
<ellipse cx="83.9" cy="398.5" rx="5.2" ry="5.5"/>
<ellipse cx="84.2" cy="402.0" rx="5.2" ry="5.5"/>
<ellipse cx="84.2" cy="405.0" rx="5.2" ry="5.5"/>
<ellipse cx="84.4" cy="408.0" rx="5.2" ry="5.5"/>
<ellipse cx="84.4" cy="411.0" rx="5.2" ry="5.5"/>
<ellipse cx="84.4" cy="413.5" rx="5.2" ry="5.5"/>
<ellipse cx="84.4" cy="416.3" rx="5.2" ry="5.5"/>
<ellipse cx="84.4" cy="419.2" rx="5.2" ry="5.5"/>
<ellipse cx="84.5" cy="425.0" rx="5.2" ry="5.5"/>
<ellipse cx="84.5" cy="428.8" rx="5.2" ry="5.5"/>
<ellipse cx="84.5" cy="434.6" rx="5.2" ry="5.5"/>
<ellipse cx="84.5" cy="437.5" rx="5.2" ry="5.5"/>
<ellipse cx="84.5" cy="440.4" rx="5.2" ry="5.5"/>
<ellipse cx="84.5" cy="450.4" rx="5.2" ry="5.5"/>
<ellipse cx="84.5" cy="469.2" rx="5.2" ry="5.5"/>
<ellipse cx="84.5" cy="479.8" rx="5.2" ry="5.5"/>
<ellipse cx="84.5" cy="492.9" rx="5.2" ry="5.5"/>
<ellipse cx="106.0" cy="337.5" rx="5.2" ry="5.5"/>
<ellipse cx="124.8" cy="332.5" rx="5.2" ry="5.5"/>
<ellipse cx="121.4" cy="354.6" rx="5.2" ry="5.5"/>
<ellipse cx="121.4" cy="370.6" rx="5.3" ry="5.6"/>
<ellipse cx="151.5" cy="365.9" rx="5.8" ry="5.8"/>
<ellipse cx="136.8" cy="394.6" rx="5.2" ry="5.5"/>
<ellipse cx="136.8" cy="396.5" rx="5.2" ry="5.5"/>
<ellipse cx="139.1" cy="440.4" rx="5.3" ry="5.8"/>
<ellipse cx="207.2" cy="319.7" rx="5.2" ry="5.5"/>
<ellipse cx="219.2" cy="320.4" rx="5.2" ry="5.5"/>
<ellipse cx="219.7" cy="325.0" rx="5.2" ry="5.5"/>
<ellipse cx="246.5" cy="319.7" rx="5.2" ry="5.5"/>
<ellipse cx="248.1" cy="330.3" rx="5.2" ry="5.5"/>
<ellipse cx="191.5" cy="329.6" rx="5.2" ry="5.5"/>
<ellipse cx="180.0" cy="333.1" rx="5.2" ry="5.5"/>
<ellipse cx="185.8" cy="335.4" rx="5.2" ry="5.5"/>
<ellipse cx="208.8" cy="334.2" rx="5.2" ry="5.5"/>
<ellipse cx="173.1" cy="341.2" rx="5.2" ry="5.5"/>
<ellipse cx="183.5" cy="345.1" rx="5.2" ry="5.5"/>
<ellipse cx="188.1" cy="344.2" rx="5.2" ry="5.5"/>
<ellipse cx="204.2" cy="340.0" rx="5.2" ry="5.5"/>
<ellipse cx="206.5" cy="341.2" rx="5.2" ry="5.5"/>
<ellipse cx="204.2" cy="345.8" rx="5.2" ry="5.5"/>
<ellipse cx="207.2" cy="344.6" rx="5.2" ry="5.5"/>
<ellipse cx="171.2" cy="348.8" rx="5.2" ry="5.5"/>
<ellipse cx="221.5" cy="352.7" rx="5.2" ry="5.5"/>
<ellipse cx="223.4" cy="358.9" rx="5.2" ry="5.5"/>
<ellipse cx="248.1" cy="352.0" rx="5.2" ry="5.5"/>
<ellipse cx="240.0" cy="358.0" rx="5.2" ry="5.5"/>
<ellipse cx="173.1" cy="359.6" rx="5.2" ry="5.5"/>
<ellipse cx="187.4" cy="361.9" rx="5.2" ry="5.5"/>
<ellipse cx="187.4" cy="371.8" rx="5.2" ry="5.5"/>
<ellipse cx="187.4" cy="375.8" rx="5.2" ry="5.5"/>
<ellipse cx="195.0" cy="379.9" rx="5.2" ry="5.5"/>
<ellipse cx="207.2" cy="383.4" rx="5.2" ry="5.5"/>
<ellipse cx="248.1" cy="379.7" rx="5.2" ry="5.5"/>
<ellipse cx="180.7" cy="389.6" rx="5.2" ry="5.5"/>
<ellipse cx="159.5" cy="423.1" rx="4.9" ry="4.9"/>
<ellipse cx="164.3" cy="423.1" rx="5.6" ry="5.2"/>
<ellipse cx="174.9" cy="424.2" rx="5.3" ry="5.1"/>
<ellipse cx="242.3" cy="425.9" rx="6" ry="5.1"/>
<ellipse cx="165.7" cy="492.8" rx="6" ry="5.1"/>
<ellipse cx="192.0" cy="492.8" rx="5.3" ry="5.1"/>
<ellipse cx="84.6" cy="380.8" rx="5.2" ry="5.5"/>
<ellipse cx="84.3" cy="385.0" rx="5.2" ry="5.5"/>
<ellipse cx="84.5" cy="388.9" rx="5.2" ry="5.5"/>
<ellipse cx="84.3" cy="392.7" rx="5.2" ry="5.5"/>
<ellipse cx="84.4" cy="396.5" rx="5.2" ry="5.5"/>
<ellipse cx="84.1" cy="400.3" rx="5.2" ry="5.5"/>
<ellipse cx="84.4" cy="403.5" rx="5.2" ry="5.5"/>
<ellipse cx="84.5" cy="406.5" rx="5.2" ry="5.5"/>
<ellipse cx="84.3" cy="409.5" rx="5.2" ry="5.5"/>
<ellipse cx="84.4" cy="412.3" rx="5.2" ry="5.5"/>
<ellipse cx="84.4" cy="415.0" rx="5.2" ry="5.5"/>
<ellipse cx="84.0" cy="417.8" rx="5.2" ry="5.5"/>
<ellipse cx="84.5" cy="426.9" rx="5.2" ry="5.5"/>
<ellipse cx="84.4" cy="436.0" rx="5.2" ry="5.5"/>
<ellipse cx="84.2" cy="438.9" rx="5.2" ry="5.5"/>
<ellipse cx="327.3" cy="344.6" rx="6" ry="5.3"/>
<ellipse cx="327.3" cy="350.8" rx="6" ry="5.3"/>
<ellipse cx="327.3" cy="356.5" rx="6" ry="5.3"/>
<ellipse cx="327.3" cy="362.7" rx="6" ry="5.3"/>
<ellipse cx="327.3" cy="377.7" rx="6" ry="5.3"/>
<ellipse cx="327.3" cy="381.2" rx="6" ry="5.3"/>
<ellipse cx="327.3" cy="384.4" rx="6" ry="5.3"/>
<ellipse cx="327.3" cy="387.7" rx="6" ry="5.3"/>
<ellipse cx="327.3" cy="391.2" rx="6" ry="5.3"/>
<ellipse cx="327.3" cy="394.6" rx="6" ry="5.3"/>
<ellipse cx="327.3" cy="397.9" rx="6" ry="5.3"/>
<ellipse cx="327.3" cy="401.2" rx="6" ry="5.3"/>
<ellipse cx="327.3" cy="404.6" rx="6" ry="5.3"/>
<ellipse cx="327.3" cy="408.1" rx="6" ry="5.3"/>
<ellipse cx="327.3" cy="411.3" rx="6" ry="5.3"/>
<ellipse cx="327.3" cy="414.6" rx="6" ry="5.3"/>
<ellipse cx="327.3" cy="418.1" rx="6" ry="5.3"/>
<ellipse cx="327.3" cy="420.6" rx="6" ry="5.3"/>
<ellipse cx="327.3" cy="423.7" rx="6" ry="5.3"/>
<ellipse cx="327.3" cy="426.8" rx="6" ry="5.3"/>
<ellipse cx="327.3" cy="434.0" rx="6" ry="5.3"/>
<ellipse cx="327.3" cy="437.1" rx="6" ry="5.3"/>
<ellipse cx="327.3" cy="439.2" rx="6" ry="5.3"/>
<ellipse cx="327.3" cy="449.5" rx="6" ry="5.3"/>
<ellipse cx="327.3" cy="468.0" rx="6" ry="5.3"/>
<ellipse cx="327.3" cy="479.4" rx="6" ry="5.3"/>
<ellipse cx="327.3" cy="491.8" rx="6" ry="5.3"/>
<ellipse cx="448.5" cy="324.4" rx="5" ry="5.9"/>
<ellipse cx="460.6" cy="329.4" rx="5.4" ry="5.8"/>
<ellipse cx="465.0" cy="330.6" rx="5.4" ry="5.8"/>
<ellipse cx="470.6" cy="332.5" rx="5.4" ry="5.8"/>
<ellipse cx="475.0" cy="332.5" rx="5.4" ry="5.8"/>
<ellipse cx="478.1" cy="333.1" rx="5.4" ry="5.8"/>
<ellipse cx="455.0" cy="335.6" rx="5.4" ry="5.8"/>
<ellipse cx="455.6" cy="340.6" rx="5.4" ry="5.8"/>
<ellipse cx="465.6" cy="339.4" rx="5.4" ry="5.8"/>
<ellipse cx="471.3" cy="336.9" rx="5.4" ry="5.8"/>
<ellipse cx="476.3" cy="341.9" rx="5.4" ry="5.8"/>
<ellipse cx="484.4" cy="342.8" rx="5.4" ry="5.8"/>
<ellipse cx="465.0" cy="346.3" rx="5.4" ry="5.8"/>
<ellipse cx="461.9" cy="353.8" rx="5.4" ry="5.8"/>
<ellipse cx="465.0" cy="351.3" rx="5.4" ry="5.8"/>
<ellipse cx="471.3" cy="353.1" rx="5.4" ry="5.8"/>
<ellipse cx="448.1" cy="357.5" rx="5.4" ry="5.8"/>
<ellipse cx="460.0" cy="358.1" rx="5.4" ry="5.8"/>
<ellipse cx="464.4" cy="356.9" rx="5.4" ry="5.8"/>
<ellipse cx="482.5" cy="358.8" rx="5.4" ry="5.8"/>
<ellipse cx="458.8" cy="363.8" rx="5.4" ry="5.8"/>
<ellipse cx="461.9" cy="365.6" rx="5.4" ry="5.8"/>
<ellipse cx="436.3" cy="368.3" rx="5.4" ry="5.8"/>
<ellipse cx="456.3" cy="371.3" rx="5.4" ry="5.8"/>
<ellipse cx="466.9" cy="370.0" rx="5.4" ry="5.8"/>
<ellipse cx="468.8" cy="375.5" rx="5.4" ry="5.8"/>
<ellipse cx="415.0" cy="377.5" rx="5.4" ry="5.8"/>
<ellipse cx="426.1" cy="389.0" rx="5.4" ry="5.8"/>
<ellipse cx="442.7" cy="387.3" rx="5.4" ry="5.8"/>
<ellipse cx="459.7" cy="384.2" rx="5.4" ry="5.8"/>
<ellipse cx="461.5" cy="392.4" rx="5.4" ry="5.8"/>
<ellipse cx="475.2" cy="382.4" rx="5.4" ry="5.8"/>
<ellipse cx="477.4" cy="382.8" rx="5.4" ry="5.8"/>
<ellipse cx="478.5" cy="393.9" rx="5.4" ry="5.8"/>
<ellipse cx="472.5" cy="411.1" rx="5.3" ry="5.8"/>
<ellipse cx="447.1" cy="422.1" rx="5" ry="5"/>
<ellipse cx="477.4" cy="491.3" rx="6.1" ry="5"/>
<ellipse cx="327.1" cy="379.3" rx="6" ry="5.0"/>
<ellipse cx="327.3" cy="386.0" rx="6" ry="5.0"/>
<ellipse cx="327.2" cy="392.8" rx="6" ry="5.0"/>
<ellipse cx="327.4" cy="399.5" rx="6" ry="5.0"/>
<ellipse cx="327.4" cy="406.2" rx="6" ry="5.0"/>
<ellipse cx="327.0" cy="412.9" rx="6" ry="5.0"/>
<ellipse cx="326.9" cy="419.7" rx="6" ry="5.0"/>
<ellipse cx="327.6" cy="425.3" rx="6" ry="5.0"/>
<ellipse cx="327.1" cy="435.6" rx="6" ry="5.0"/>
<ellipse cx="327.1" cy="440.8" rx="6" ry="5.0"/>
<ellipse cx="327.3" cy="350.3" rx="6" ry="4.9"/>
<ellipse cx="327.3" cy="356.9" rx="6" ry="4.9"/>
<ellipse cx="327.3" cy="362.2" rx="6" ry="4.9"/>
</g>
<g fill="none" stroke="#151515" stroke-width="1.1">
<ellipse cx="468.5" cy="318.8" rx="5.1" ry="5.7"/>
<ellipse cx="469.9" cy="318.8" rx="5.1" ry="5.7"/>
<ellipse cx="471.4" cy="318.8" rx="5.1" ry="5.7"/>
<ellipse cx="472.9" cy="318.8" rx="5.1" ry="5.7"/>
</g>
<circle cx="126.3" cy="87" r="1" fill="#1c1c1c"/>
<g fill="#151515" stroke="#151515" stroke-width="0.12" font-family="'Liberation Sans', sans-serif">
<text transform="translate(42.40,19.30) scale(1.03,1.0)" font-size="15.9" text-anchor="end" >7</text>
<text transform="translate(42.40,46.80) scale(1.03,1.0)" font-size="15.9" text-anchor="end" >6</text>
<text transform="translate(42.40,73.70) scale(1.03,1.0)" font-size="15.9" text-anchor="end" >5</text>
<text transform="translate(42.40,101.30) scale(1.03,1.0)" font-size="15.9" text-anchor="end" >4</text>
<text transform="translate(42.40,126.90) scale(1.03,1.0)" font-size="15.9" text-anchor="end" >3</text>
<text transform="translate(42.40,154.70) scale(1.03,1.0)" font-size="15.9" text-anchor="end" >2</text>
<text transform="translate(42.40,181.60) scale(1.03,1.0)" font-size="15.9" text-anchor="end" >1</text>
<text transform="translate(42.40,208.70) scale(1.03,1.0)" font-size="15.9" text-anchor="end" >0</text>
<text transform="translate(42.40,235.80) scale(1.03,1.0)" font-size="15.9" text-anchor="end" >-1</text>
<text transform="translate(43.80,314.20) scale(1.03,1.0)" font-size="15.9" text-anchor="end" >7</text>
<text transform="translate(43.80,341.60) scale(1.03,1.0)" font-size="15.9" text-anchor="end" >6</text>
<text transform="translate(43.80,368.60) scale(1.03,1.0)" font-size="15.9" text-anchor="end" >5</text>
<text transform="translate(43.80,394.82) scale(1.03,1.0)" font-size="15.9" text-anchor="end" >4</text>
<text transform="translate(43.80,421.70) scale(1.03,1.0)" font-size="15.9" text-anchor="end" >3</text>
<text transform="translate(43.80,448.57) scale(1.03,1.0)" font-size="15.9" text-anchor="end" >2</text>
<text transform="translate(43.80,475.45) scale(1.03,1.0)" font-size="15.9" text-anchor="end" >1</text>
<text transform="translate(43.80,501.70) scale(1.03,1.0)" font-size="15.9" text-anchor="end" >0</text>
<text transform="translate(43.80,530.70) scale(1.03,1.0)" font-size="15.9" text-anchor="end" >-1</text>
<text transform="translate(56.80,257.80) scale(1.0,1.0)" font-size="15.4" text-anchor="middle" >0</text>
<text transform="translate(127.10,257.80) scale(1.0,1.0)" font-size="15.4" text-anchor="middle" >1</text>
<text transform="translate(197.40,257.80) scale(1.0,1.0)" font-size="15.4" text-anchor="middle" >2</text>
<text transform="translate(268.90,257.80) scale(1.0,1.0)" font-size="15.4" text-anchor="middle" >3</text>
<text transform="translate(299.80,257.50) scale(1.0,1.0)" font-size="15.4" text-anchor="middle" >0</text>
<text transform="translate(330.20,257.50) scale(1.0,1.0)" font-size="15.4" text-anchor="middle" >1</text>
<text transform="translate(360.60,257.50) scale(1.0,1.0)" font-size="15.4" text-anchor="middle" >2</text>
<text transform="translate(391.00,257.50) scale(1.0,1.0)" font-size="15.4" text-anchor="middle" >3</text>
<text transform="translate(421.40,257.50) scale(1.0,1.0)" font-size="15.4" text-anchor="middle" >4</text>
<text transform="translate(451.80,257.50) scale(1.0,1.0)" font-size="15.4" text-anchor="middle" >5</text>
<text transform="translate(482.20,257.50) scale(1.0,1.0)" font-size="15.4" text-anchor="middle" >6</text>
<text transform="translate(512.60,257.50) scale(1.0,1.0)" font-size="15.4" text-anchor="middle" >7</text>
<text transform="translate(83.80,552.00) scale(1.0,1.0)" font-size="15.4" text-anchor="middle" >0</text>
<text transform="translate(137.20,552.00) scale(1.0,1.0)" font-size="15.4" text-anchor="middle" >1</text>
<text transform="translate(190.60,552.00) scale(1.0,1.0)" font-size="15.4" text-anchor="middle" >2</text>
<text transform="translate(244.00,552.00) scale(1.0,1.0)" font-size="15.4" text-anchor="middle" >3</text>
<text transform="translate(327.20,551.20) scale(1.0,1.0)" font-size="15.4" text-anchor="middle" >0</text>
<text transform="translate(380.60,551.20) scale(1.0,1.0)" font-size="15.4" text-anchor="middle" >1</text>
<text transform="translate(434.00,551.20) scale(1.0,1.0)" font-size="15.4" text-anchor="middle" >2</text>
<text transform="translate(487.40,551.20) scale(1.0,1.0)" font-size="15.4" text-anchor="middle" >3</text>
<text transform="translate(65.00,222.40) scale(1.0,1.05)" font-size="14.5" text-anchor="start" >R = 0.57</text>
<text transform="translate(307.30,221.60) scale(1.0,1.05)" font-size="14.5" text-anchor="start" >R = 0.21</text>
<text transform="translate(266.30,514.50) scale(1.0,1.05)" font-size="14.5" text-anchor="end" >R = 0.45</text>
<text transform="translate(509.20,514.40) scale(1.0,1.05)" font-size="14.5" text-anchor="end" >R = 0.54</text>
<text transform="translate(127.60,284.00) scale(1.0,1.0)" font-size="16.6" text-anchor="start" textLength="67" lengthAdjust="spacingAndGlyphs">Log CRP</text>
<text transform="translate(348.60,283.20) scale(1.0,1.0)" font-size="17" text-anchor="start" textLength="103.8" lengthAdjust="spacingAndGlyphs">Log HIV-RNA</text>
<text transform="translate(133.00,577.00) scale(1.0,1.0)" font-size="16.8" text-anchor="start" textLength="63.3" lengthAdjust="spacingAndGlyphs">Log IL-6</text>
<text transform="translate(369.50,576.80) scale(1.0,1.0)" font-size="16.8" text-anchor="start" textLength="73" lengthAdjust="spacingAndGlyphs">Log IL-10</text>
<text transform="translate(15.5,416.6) rotate(-90)" font-size="16.4" text-anchor="start" textLength="273" lengthAdjust="spacingAndGlyphs">PBMCs HHV8 log copies/1 µg DNA</text>
</g>
</svg>
</body></html>
